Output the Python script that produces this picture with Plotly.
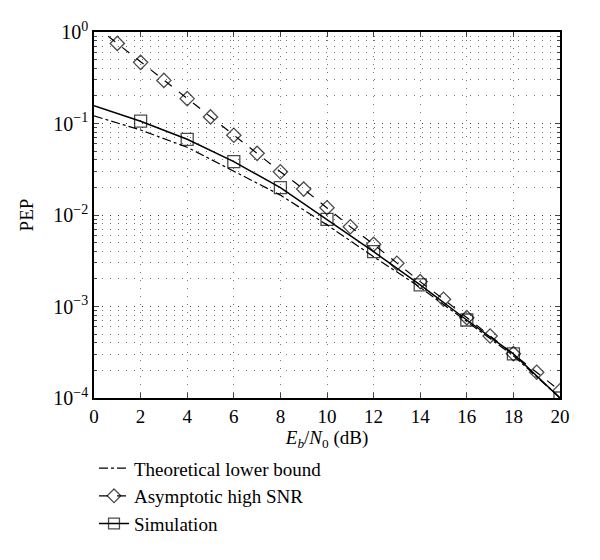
import plotly.graph_objects as go

# 读图估计的数据
snr_even = [0, 2, 4, 6, 8, 10, 12, 14, 16, 18, 20]
snr_all = list(range(0, 21))

lower_bound = [0.121, 0.085, 0.055, 0.030, 0.0165, 0.0078, 0.0035, 0.00162, 0.00068, 0.00029, 0.0001]
asymptotic = [1.19, 0.75, 0.466, 0.296, 0.187, 0.118, 0.0743, 0.0472, 0.0297, 0.0192, 0.012,
              0.00745, 0.00478, 0.00297, 0.00187, 0.0012, 0.000755, 0.000476, 0.000305, 0.000191, 0.00012]
simulation = [0.156, 0.106, 0.0672, 0.0383, 0.0199, 0.00897, 0.00397, 0.00172, 0.000712, 0.000303, 0.0001]

ytick_vals = [1, 0.1, 0.01, 0.001, 0.0001]
ytick_text = ['10<sup>0</sup>', '10<sup>−1</sup>', '10<sup>−2</sup>', '10<sup>−3</sup>', '10<sup>−4</sup>']

font_family = 'Liberation Serif, Times New Roman, serif'
grid_color = 'rgba(0,0,0,0.55)'
grid_dash = '1px,7px'

fig = go.Figure()

fig.add_trace(go.Scatter(
    x=snr_even, y=lower_bound, mode='lines',
    line=dict(color='black', width=1.2, dash='dashdot'),
    name='Theoretical lower bound'
))

# 第一个点在图框外，不画标记
fig.add_trace(go.Scatter(
    x=snr_all, y=asymptotic, mode='lines+markers',
    line=dict(color='black', width=1.2, dash='dash'),
    marker=dict(symbol='diamond-open', size=[0] + [11] * 20, color='black',
                line=dict(width=1.3, color='black')),
    name='Asymptotic high SNR'
))

fig.add_trace(go.Scatter(
    x=snr_even, y=simulation, mode='lines+markers',
    line=dict(color='black', width=1.5),
    marker=dict(symbol='square-open', size=[0] + [12] * 10, color='black',
                line=dict(width=1.3, color='black')),
    name='Simulation'
))

fig.update_layout(
    width=600, height=560,
    margin=dict(l=86, r=48, t=24, b=170),
    paper_bgcolor='white', plot_bgcolor='white',
    font=dict(family=font_family, size=19, color='black'),
    showlegend=True,
    legend=dict(
        x=0.0, y=-0.14, xanchor='left', yanchor='top',
        font=dict(size=19), tracegroupgap=0, itemwidth=30,
        bgcolor='rgba(0,0,0,0)'
    ),
    xaxis=dict(
        range=[0, 20], tickvals=snr_even, ticks='inside', ticklen=5,
        showline=True, linecolor='black', linewidth=1.5, mirror='ticks',
        showgrid=True, gridcolor=grid_color, griddash=grid_dash, gridwidth=1,
        zeroline=False, tickfont=dict(size=19), automargin=False,
        title=dict(text='<i>E</i><sub><i>b</i></sub>/<i>N</i><sub>0</sub> (dB)',
                   font=dict(size=19), standoff=2)
    ),
    yaxis=dict(
        type='log', range=[-4, 0], tickvals=ytick_vals, ticktext=ytick_text,
        ticks='inside', ticklen=5,
        showline=True, linecolor='black', linewidth=1.5, mirror='ticks',
        showgrid=True, gridcolor=grid_color, griddash=grid_dash, gridwidth=1,
        zeroline=False, tickfont=dict(size=20), automargin=False,
        minor=dict(ticks='inside', ticklen=3, showgrid=True,
                   gridcolor=grid_color, griddash=grid_dash, gridwidth=1,
                   dtick='D1'),
        title=dict(text='PEP', font=dict(size=19), standoff=15)
    )
)

fig.write_html("out.html")
